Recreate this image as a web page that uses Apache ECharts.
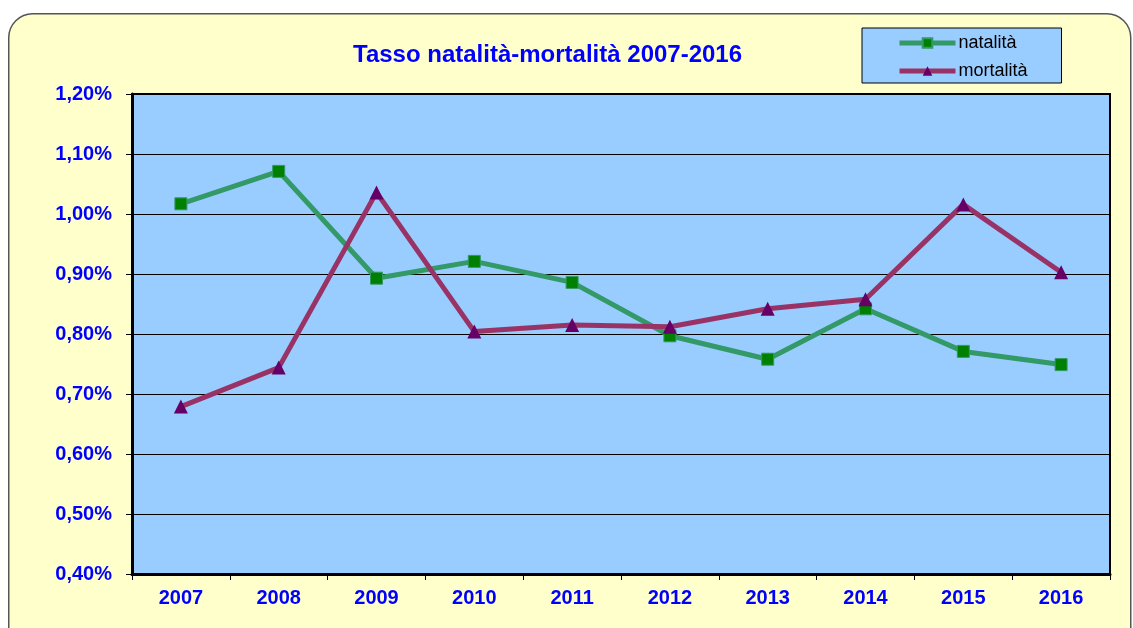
<!DOCTYPE html>
<html>
<head>
<meta charset="utf-8">
<script src="https://cdn.jsdelivr.net/npm/echarts@6/dist/echarts.min.js"></script>
<style>
  html, body { margin: 0; padding: 0; background: #ffffff; }
  #chart { width: 1133px; height: 628px; }
</style>
</head>
<body>
<div id="chart"></div>
<script>
var years = ['2007', '2008', '2009', '2010', '2011', '2012', '2013', '2014', '2015', '2016'];
var natalita = [1.017, 1.071, 0.893, 0.921, 0.886, 0.797, 0.758, 0.842, 0.771, 0.749];
var mortalita = [0.679, 0.744, 1.036, 0.804, 0.815, 0.812, 0.842, 0.858, 1.016, 0.903];
var yTicks = { min: 0.4, max: 1.2, step: 0.1 };

var myChart = echarts.init(document.getElementById('chart'));

var option = {
  backgroundColor: '#ffffff',
  textStyle: { fontFamily: 'Liberation Sans, Arial, sans-serif' },
  graphic: [{
    type: 'rect',
    left: 8,
    top: 13,
    z: -10,
    shape: { width: 1122, height: 640, r: 24 },
    style: { fill: '#FFFFCC', stroke: '#555555', lineWidth: 1.5 }
  }],
  title: {
    text: 'Tasso natalità-mortalità 2007-2016',
    left: 348,
    top: 38,
    textStyle: {
      color: '#0000FF',
      fontSize: 24,
      fontWeight: 'bold',
      fontFamily: 'Liberation Sans, Arial, sans-serif'
    }
  },
  legend: {
    orient: 'vertical',
    left: 862,
    top: 28,
    padding: [6, 34, 3, 35],
    itemWidth: 56,
    itemHeight: 12,
    itemGap: 10,
    backgroundColor: '#99CCFF',
    borderColor: '#000000',
    borderWidth: 1,
    lineStyle: { width: 5 },
    textStyle: { color: '#000000', fontSize: 18, lineHeight: 18, padding: [0, 0, 0, -2] },
    data: ['natalità', 'mortalità']
  },
  grid: {
    left: 132,
    right: 23,
    top: 94,
    bottom: 54,
    show: true,
    backgroundColor: '#99CCFF',
    borderColor: '#000000',
    borderWidth: 2
  },
  xAxis: {
    type: 'category',
    data: years,
    boundaryGap: true,
    axisLine: { lineStyle: { color: '#000000', width: 3 } },
    axisTick: { show: true, length: 6, lineStyle: { color: '#000000', width: 1 } },
    axisLabel: {
      color: '#0000FF',
      fontSize: 20,
      fontWeight: 'bold',
      margin: 14
    }
  },
  yAxis: {
    type: 'value',
    min: yTicks.min,
    max: yTicks.max,
    interval: yTicks.step,
    axisLine: { show: true, lineStyle: { color: '#000000', width: 3 } },
    axisTick: { show: true, length: 6, lineStyle: { color: '#000000', width: 1 } },
    splitLine: { lineStyle: { color: '#000000', width: 1 } },
    axisLabel: {
      color: '#0000FF',
      fontSize: 20,
      fontWeight: 'bold',
      margin: 20,
      formatter: function (v) {
        return v.toFixed(2).replace('.', ',') + '%';
      }
    }
  },
  series: [
    {
      name: 'natalità',
      type: 'line',
      data: natalita,
      symbol: 'rect',
      symbolSize: 12,
      lineStyle: { color: '#339966', width: 5 },
      itemStyle: { color: '#008000', borderColor: '#339966', borderWidth: 1 },
      z: 3
    },
    {
      name: 'mortalità',
      type: 'line',
      data: mortalita,
      symbol: 'triangle',
      symbolSize: 14,
      lineStyle: { color: '#993366', width: 5 },
      itemStyle: { color: '#660066' },
      z: 4
    }
  ]
};

myChart.setOption(option);
</script>
</body>
</html>
